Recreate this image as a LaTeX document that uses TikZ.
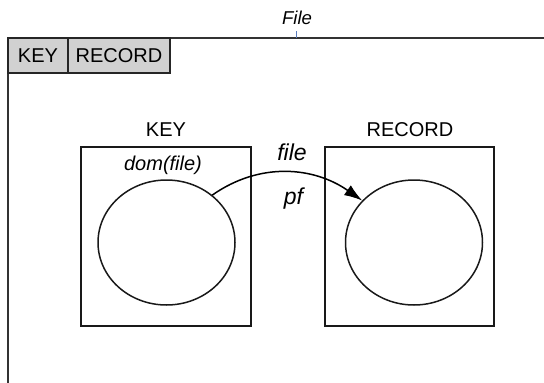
\documentclass[tikz,border=0pt]{standalone}
\usepackage{fontspec}
\setmainfont{Liberation Sans}
\usetikzlibrary{shapes.geometric,arrows.meta}
\begin{document}
\begin{tikzpicture}[x=1pt,y=-1pt,
  cell/.style={draw=black!85, line width=1.7pt, fill=black!18, minimum height=35pt,
    inner sep=0pt, font=\fontsize{20}{24}\selectfont},
  setbox/.style={draw=black!90, line width=1.5pt, minimum height=179pt, inner sep=0pt},
  setoval/.style={ellipse, draw=black!90, line width=1.5pt, minimum width=137pt,
    minimum height=125pt, inner sep=0pt},
  lbl/.style={font=\fontsize{20}{24}\selectfont, inner sep=0pt, anchor=base},
  maplbl/.style={font=\fontsize{23}{27}\selectfont\itshape, inner sep=0pt, anchor=base},
  frameline/.style={draw=black!80, line width=1.9pt},
  maparrow/.style={draw=black, line width=1.5pt, -{Latex[length=18pt,width=12pt]}}]
\useasboundingbox (0,0) rectangle (544,383);

% outer frame of the file: top and left edges only
\coordinate (ftl) at (8,38);
\coordinate (ftr) at (544,38);
\coordinate (fbl) at (8,383);
\draw[frameline] (ftr) -- (ftl) -- (fbl);

% title with its small marker
\node[lbl, font=\fontsize{18.6}{22}\selectfont\itshape] (title) at (297,24.5) {File};
\coordinate (tickt) at (296,31);
\coordinate (tickb) at (296,38);
\draw[draw={rgb,255:red,90;green,125;blue,190}, line width=0.6pt] (tickt) -- (tickb);

% header cells
\node[cell, minimum width=60pt] (hkey) at (38,55.5) {KEY};
\node[cell, minimum width=102pt] (hrec) at (119,55.5) {RECORD};

% domain and range boxes
\node[setbox, minimum width=170pt] (kbox) at (166,236.5) {};
\node[setbox, minimum width=169pt] (rbox) at (409.5,236.5) {};
\node[lbl] (klbl) at (166,136) {KEY};
\node[lbl] (rlbl) at (410,136) {RECORD};
\node[lbl, font=\fontsize{20}{24}\selectfont\itshape] (dom) at (163,170) {dom(file)};

% sets
\node[setoval] (kset) at (166.5,242.5) {};
\node[setoval] (rset) at (414,242.5) {};

% the partial function
\draw[maparrow] (kset.46) to[out=35,in=145] (rset.141);
\node[maplbl] (fname) at (292,160) {file};
\node[maplbl] (fkind) at (293.5,204) {pf};
\end{tikzpicture}
\end{document}
